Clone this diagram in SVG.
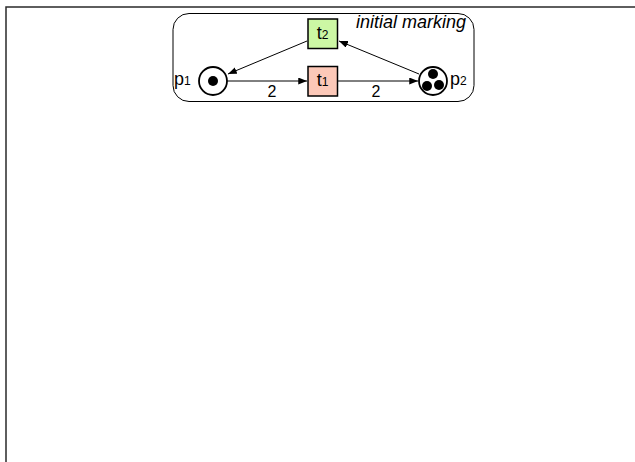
<svg xmlns="http://www.w3.org/2000/svg" width="635" height="462" viewBox="0 0 635 462">
  <style>
    .lbl { font-family: "Liberation Sans", Arial, sans-serif; font-size: 18px; fill: #000; }
    .sub { font-size: 12px; }
    .num { font-size: 16px; }
    .arc { stroke: #000; stroke-width: 1; fill: none; marker-end: url(#head); }
    .place { fill: #fff; stroke: #000; stroke-width: 1.8; }
    .trans { stroke: #000; stroke-width: 1.5; }
    .token { fill: #000; }
  </style>
  <defs>
    <marker id="head" viewBox="0 0 10 8" refX="10" refY="4" markerWidth="9" markerHeight="7" markerUnits="userSpaceOnUse" orient="auto">
      <path d="M0,0 L10,4 L0,8 Z" fill="#000"/>
    </marker>
  </defs>
  <rect width="635" height="462" fill="#fff"/>
  <!-- page frame -->
  <rect x="6" y="7" width="640" height="470" fill="none" stroke="#2a2a2a" stroke-width="1.5"/>

  <!-- net boundary -->
  <g id="marking-frame">
    <rect x="173" y="13.5" width="301" height="88" rx="16" ry="16" fill="none" stroke="#000" stroke-width="1"/>
    <text class="lbl" x="466" y="27.5" text-anchor="end" font-style="italic">initial marking</text>
  </g>

  <g id="connectors">
    <line class="arc" x1="227" y1="81" x2="307" y2="81"/>
    <line class="arc" x1="338" y1="81" x2="418" y2="81"/>
    <line class="arc" x1="307" y1="41" x2="228" y2="74"/>
    <line class="arc" x1="419" y1="74" x2="339" y2="41"/>
    <text class="lbl num" x="272" y="96.5" text-anchor="middle">2</text>
    <text class="lbl num" x="376" y="96.5" text-anchor="middle">2</text>
  </g>

  <g id="p1">
    <circle class="place" cx="213" cy="81" r="14"/>
    <circle class="token" cx="213" cy="81" r="5"/>
    <text class="lbl" x="174" y="84.5">p<tspan class="sub">1</tspan></text>
  </g>

  <g id="p2">
    <circle class="place" cx="433" cy="81" r="14"/>
    <circle class="token" cx="433" cy="74" r="5"/>
    <circle class="token" cx="427" cy="86" r="5"/>
    <circle class="token" cx="439" cy="85" r="5"/>
    <text class="lbl" x="450" y="84.5">p<tspan class="sub">2</tspan></text>
  </g>

  <g id="t1">
    <rect class="trans" x="308" y="66.5" width="29.5" height="29.5" fill="#fcc8b8"/>
    <text class="lbl" x="322.5" y="86" text-anchor="middle">t<tspan class="sub">1</tspan></text>
  </g>

  <g id="t2">
    <rect class="trans" x="308" y="19" width="29.5" height="29.5" fill="#ccf7a4"/>
    <text class="lbl" x="322.5" y="39" text-anchor="middle">t<tspan class="sub">2</tspan></text>
  </g>
</svg>
